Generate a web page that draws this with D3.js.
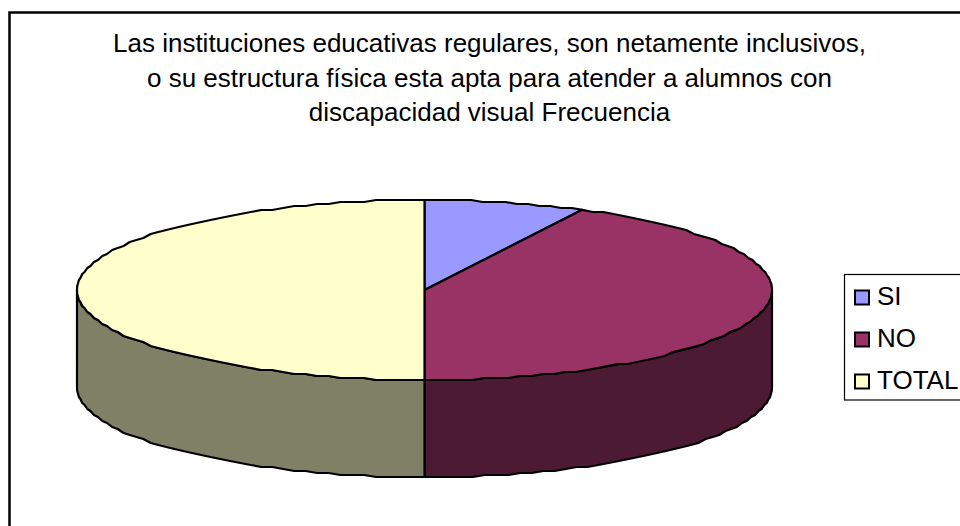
<!DOCTYPE html>
<html><head><meta charset="utf-8">
<script src="https://cdn.jsdelivr.net/npm/d3@7"></script>
<style>html,body{margin:0;padding:0;background:#fff}svg{display:block}text{font-family:"Liberation Sans",Arial,sans-serif;fill:#000}</style>
</head><body><div id="c"></div>
<script>
const categories = ["SI","NO","TOTAL"];
const values = [3,17,20];
const topColors = ["#9999ff","#993366","#ffffcc"];
const sideColors = ["#4d4d80","#4d1a33","#808066"];
const titleLines = ["Las instituciones educativas regulares, son netamente inclusivos,","o su estructura física esta apta para atender a alumnos con","discapacidad visual Frecuencia"];

const W=960,H=526, cx=424.5, cy=290, rx=347.5, ry=90, depth=97;
const svg=d3.select("#c").append("svg").attr("width",W).attr("height",H);
svg.append("rect").attr("width",W).attr("height",H).attr("fill","#fff");
svg.append("path").attr("d",`M9.5,${H+2}V12.5H${W+2}`).attr("fill","none").attr("stroke","#000").attr("stroke-width",2.5);

const pie=d3.pie().sort(null).value(d=>d)(values);
const sx=d3.scaleLinear().domain([-1,1]).range([cx-rx,cx+rx]);
const sy=d3.scaleLinear().domain([-1,1]).range([cy-ry,cy+ry]);
// outline is stepped like the coarse vector of the original
const snap=v=>Math.round(v/2)*2;
const P=(a,dz=0)=>{const x=sx(Math.sin(a)),y=sy(-Math.cos(a));return [x,y+dz];};
const arcPts=(a0,a1,dz=0)=>{
  const n=Math.max(2,Math.ceil((a1-a0)/(Math.PI/90))),o=[];
  for(let i=0;i<=n;i++){const a=a0+(a1-a0)*i/n;const p=P(a,dz);
    const end=i===0||i===n;
    o.push(end?p:[p[0],cy+dz+snap(p[1]-cy-dz)]);}
  return o;};
const line=d3.line();
const g=svg.append("g").attr("stroke","#000").attr("stroke-width",2.2).attr("stroke-linejoin","round");
// side walls: only the front half (PI/2 .. 3PI/2) is visible
pie.forEach((d,i)=>{
  const a0=Math.max(d.startAngle,Math.PI/2),a1=Math.min(d.endAngle,3*Math.PI/2);
  if(a1<=a0)return;
  const pts=arcPts(a0,a1,0).concat(arcPts(a0,a1,depth).reverse());
  g.append("path").attr("d",line(pts)+"Z").attr("fill",sideColors[i]);
});
// top faces
pie.forEach((d,i)=>{
  const pts=[[cx,cy]].concat(arcPts(d.startAngle,d.endAngle,0));
  g.append("path").attr("d",line(pts)+"Z").attr("fill",topColors[i]);
});
// title
svg.append("g").selectAll("text").data(titleLines).join("text")
  .attr("x",489.5).attr("y",(d,i)=>[52,87,121][i]).attr("text-anchor","middle")
  .attr("font-size",26).text(d=>d);
// legend
const leg=svg.append("g");
leg.append("rect").attr("x",844.5).attr("y",274.5).attr("width",W+5-844.5).attr("height",125.5)
  .attr("fill","#fff").attr("stroke","#000").attr("stroke-width",1.2);
const ly=d3.scalePoint().domain(categories).range([297.5,381.5]);
categories.forEach((c,i)=>{
  leg.append("rect").attr("x",855).attr("y",ly(c)-7).attr("width",14).attr("height",14)
    .attr("fill",topColors[i]).attr("stroke","#000").attr("stroke-width",2);
  leg.append("text").attr("x",877).attr("y",ly(c)+7).attr("font-size",26).text(c);
});
</script></body></html>
